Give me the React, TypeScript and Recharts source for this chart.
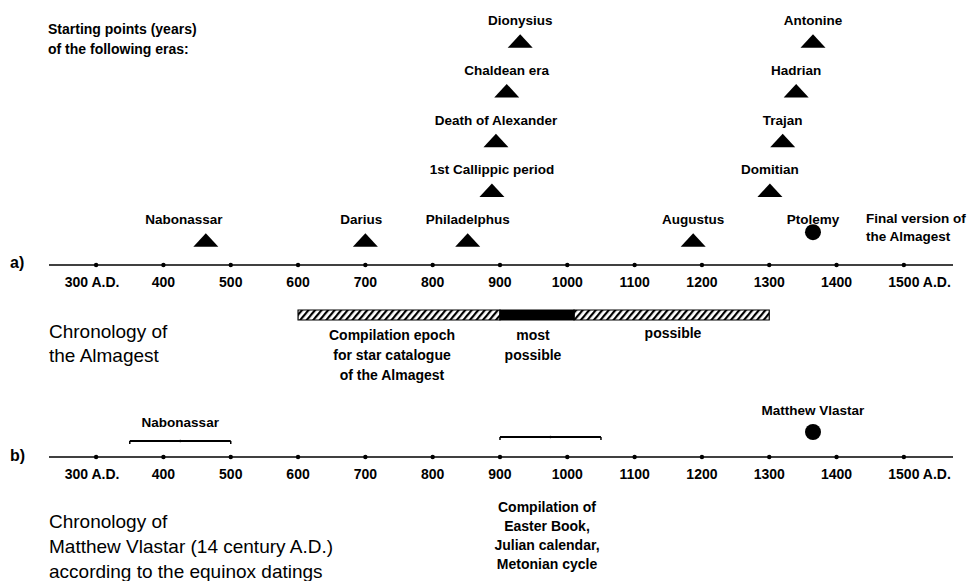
import React from "react";
import {
  ComposedChart,
  ReferenceArea,
  ReferenceLine,
  Scatter,
  XAxis,
  YAxis,
} from "recharts";

// years on both timelines
const TICKS = [300, 400, 500, 600, 700, 800, 900, 1000, 1100, 1200, 1300, 1400, 1500];
const DOMAIN: [number, number] = [230, 1573];

// a) starting points of eras, level = stacking row above the axis
const ERA_NAMES = [
  "Nabonassar", "Darius", "Philadelphus", "1st Callippic period", "Death of Alexander",
  "Chaldean era", "Dionysius", "Augustus", "Domitian", "Trajan", "Hadrian", "Antonine", "Ptolemy",
];
const ERA_YEARS = [463, 700, 852, 888, 894, 910, 930, 1187, 1301, 1320, 1340, 1365, 1365];
const ERA_LEVELS = [0, 0, 0, 1, 2, 3, 4, 0, 1, 2, 3, 4, 0];
const ERA_KIND = ["tri", "tri", "tri", "tri", "tri", "tri", "tri", "tri", "tri", "tri", "tri", "tri", "dot"];

// compilation epoch of the Almagest star catalogue
const BAR_FROM = [600, 900, 1010];
const BAR_TO = [900, 1010, 1300];
const BAR_KIND = ["possible", "most", "possible"];
const BAR_ROW = 7.1;

// b) Matthew Vlastar
const SPAN_NAMES = ["Nabonassar", ""];
const SPAN_FROM = [350, 900];
const SPAN_TO = [500, 1050];
const SPAN_LEVEL = [0.8, 1.0];
const VLASTAR = [{ year: 1365, level: 1.25, name: "Matthew Vlastar" }];

const eras = ERA_NAMES.map((name, i) => ({
  name,
  year: ERA_YEARS[i],
  level: ERA_LEVELS[i],
  kind: ERA_KIND[i],
}));

const FONT = "'Liberation Sans', Arial, sans-serif";
const LABEL_SHIFT: Record<string, number> = { Nabonassar: -22, Darius: -4 };

function AxisTick(props: any) {
  const { x, y, payload } = props;
  const v = payload.value;
  const first = v === TICKS[0];
  const last = v === TICKS[TICKS.length - 1];
  return (
    <g>
      <circle cx={x} cy={y} r={2.2} fill="#000" />
      {first ? (
        <text x={x - 4} y={y + 22} textAnchor="middle" fontSize={14} fontWeight="bold" fontFamily={FONT}>
          {v} A.D.
        </text>
      ) : (
        <text x={x} y={y + 22} textAnchor="middle" fontSize={14} fontWeight="bold" fontFamily={FONT}>
          {v}
        </text>
      )}
      {last && (
        <text x={x + 19} y={y + 22} textAnchor="start" fontSize={14} fontWeight="bold" fontFamily={FONT}>
          A.D.
        </text>
      )}
    </g>
  );
}

function EraMarker(props: any) {
  const { cx, cy, payload } = props;
  const dx = LABEL_SHIFT[payload.name] ?? 0;
  return (
    <g>
      {payload.kind === "tri" ? (
        <polygon points={`${cx},${cy - 7} ${cx - 12.5},${cy + 6.5} ${cx + 12.5},${cy + 6.5}`} fill="#000" />
      ) : (
        <circle cx={cx} cy={cy - 8} r={8} fill="#000" />
      )}
      <text x={cx + dx} y={cy - 16} textAnchor="middle" fontSize={13.5} fontWeight="bold" fontFamily={FONT}>
        {payload.name}
      </text>
    </g>
  );
}

function VlastarMarker(props: any) {
  const { cx, cy, payload } = props;
  return (
    <g>
      <circle cx={cx} cy={cy} r={8} fill="#000" />
      <text x={cx} y={cy - 17} textAnchor="middle" fontSize={13.5} fontWeight="bold" fontFamily={FONT}>
        {payload.name}
      </text>
    </g>
  );
}

const spanShape = (name: string) => (p: any) => {
  const { x1, y1, x2, y2 } = p;
  const mid = (x1 + x2) / 2;
  return (
    <g>
      <line x1={x1} y1={y1} x2={x2} y2={y2} stroke="#000" strokeWidth={1.8} />
      <line x1={x1} y1={y1} x2={x1} y2={y1 + 3} stroke="#000" strokeWidth={1.5} />
      <line x1={x2} y1={y2} x2={x2} y2={y2 + 3} stroke="#000" strokeWidth={1.5} />
      <circle cx={mid} cy={y1} r={1.2} fill="#000" />
      {name && (
        <text x={mid} y={y1 - 14} textAnchor="middle" fontSize={13.5} fontWeight="bold" fontFamily={FONT}>
          {name}
        </text>
      )}
    </g>
  );
};

const boldText: React.CSSProperties = {
  position: "absolute",
  fontFamily: FONT,
  fontWeight: "bold",
  fontSize: 14,
  color: "#000",
  whiteSpace: "nowrap",
};
const plainText: React.CSSProperties = {
  position: "absolute",
  fontFamily: FONT,
  fontSize: 19,
  color: "#000",
  whiteSpace: "nowrap",
};

export default function App() {
  return (
    <div style={{ position: "absolute", left: 0, top: 0, width: 968, height: 581, background: "#fff", overflow: "hidden" }}>
      <div style={{ ...boldText, left: 48, top: 19, lineHeight: "20px" }}>
        Starting points (years)
        <br />
        of the following eras:
      </div>
      <div style={{ ...boldText, left: 866, top: 210, lineHeight: "18px", fontSize: 13.5 }}>
        Final version of
        <br />
        the Almagest
      </div>
      <div style={{ ...plainText, left: 10, top: 254, fontWeight: "bold", fontSize: 16 }}>a)</div>
      <div style={{ ...plainText, left: 10, top: 447, fontWeight: "bold", fontSize: 16 }}>b)</div>

      <div style={{ position: "absolute", left: 0, top: 0 }}>
        <ComposedChart width={968} height={295} margin={{ top: 2, right: 15, left: 49, bottom: 0 }}>
          <XAxis
            type="number"
            dataKey="year"
            domain={DOMAIN}
            allowDataOverflow
            ticks={TICKS}
            interval={0}
            height={30}
            tickLine={false}
            tickSize={0}
            tickMargin={0}
            axisLine={{ stroke: "#000", strokeWidth: 1.6 }}
            tick={<AxisTick />}
          />
          <YAxis type="number" dataKey="level" domain={[-0.5, 4.79]} allowDataOverflow hide />
          <Scatter data={eras} dataKey="level" shape={<EraMarker />} isAnimationActive={false} />
        </ComposedChart>
      </div>

      <div style={{ position: "absolute", left: 0, top: 295 }}>
        <ComposedChart width={968} height={286} margin={{ top: 2, right: 15, left: 49, bottom: 0 }}>
          <defs>
            <pattern id="hatch" width={5} height={5} patternUnits="userSpaceOnUse" patternTransform="rotate(40)">
              <rect width={2.2} height={5} fill="#000" />
            </pattern>
          </defs>
          <XAxis
            type="number"
            dataKey="year"
            domain={DOMAIN}
            allowDataOverflow
            ticks={TICKS}
            interval={0}
            height={124}
            tickLine={false}
            tickSize={0}
            tickMargin={0}
            axisLine={{ stroke: "#000", strokeWidth: 1.6 }}
            tick={<AxisTick />}
          />
          <YAxis type="number" dataKey="level" domain={[0, 8]} allowDataOverflow hide />
          {BAR_FROM.map((from, i) => (
            <ReferenceArea
              key={i}
              x1={from}
              x2={BAR_TO[i]}
              y1={BAR_ROW - 0.25}
              y2={BAR_ROW + 0.25}
              fill={BAR_KIND[i] === "most" ? "#000" : "url(#hatch)"}
              fillOpacity={1}
              stroke="#000"
              strokeWidth={1.2}
            />
          ))}
          {SPAN_FROM.map((from, i) => (
            <ReferenceLine
              key={i}
              segment={[
                { x: from, y: SPAN_LEVEL[i] },
                { x: SPAN_TO[i], y: SPAN_LEVEL[i] },
              ]}
              shape={spanShape(SPAN_NAMES[i])}
            />
          ))}
          <Scatter data={VLASTAR} dataKey="level" shape={<VlastarMarker />} isAnimationActive={false} />
        </ComposedChart>
      </div>

      <div style={{ ...plainText, left: 49, top: 320, lineHeight: "24px" }}>
        Chronology of
        <br />
        the Almagest
      </div>
      <div style={{ ...boldText, left: 392, top: 325, lineHeight: "20px", textAlign: "center", transform: "translateX(-50%)" }}>
        Compilation epoch
        <br />
        for star catalogue
        <br />
        of the Almagest
      </div>
      <div style={{ ...boldText, left: 533, top: 325, lineHeight: "20px", textAlign: "center", transform: "translateX(-50%)" }}>
        most
        <br />
        possible
      </div>
      <div style={{ ...boldText, left: 673, top: 323, lineHeight: "20px", textAlign: "center", transform: "translateX(-50%)" }}>
        possible
      </div>
      <div style={{ ...boldText, left: 547, top: 498, lineHeight: "19px", textAlign: "center", transform: "translateX(-50%)" }}>
        Compilation of
        <br />
        Easter Book,
        <br />
        Julian calendar,
        <br />
        Metonian cycle
      </div>
      <div style={{ ...plainText, left: 49, top: 509, lineHeight: "25px" }}>
        Chronology of
        <br />
        Matthew Vlastar (14 century A.D.)
        <br />
        according to the equinox datings
      </div>
    </div>
  );
}
